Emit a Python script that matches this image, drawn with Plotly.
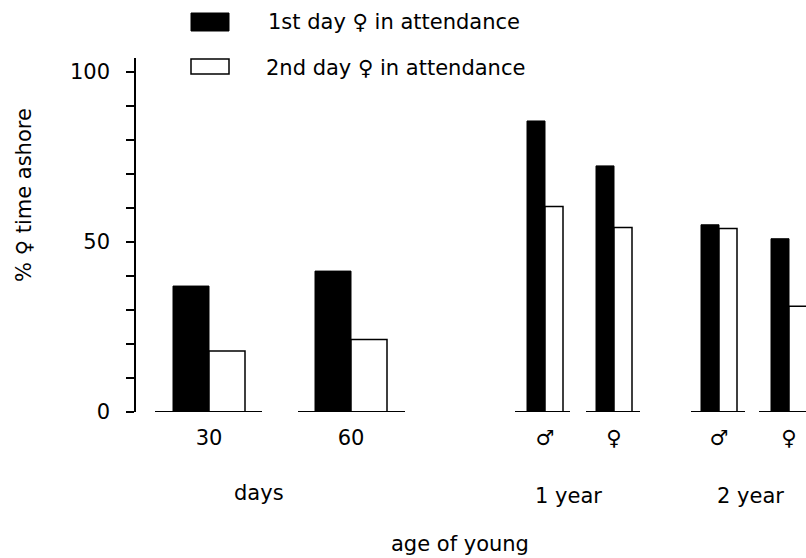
import plotly.graph_objects as go

# ---- data ----
categories = ["30", "60", "♂", "♀", "♂", "♀"]
age_groups = ["days", "1 year", "2 year"]
first_day = [37.0, 41.4, 85.5, 72.3, 55.0, 50.9]
second_day = [17.9, 21.3, 60.4, 54.2, 53.9, 31.1]
series_names = ["1st day ♀ in attendance", "2nd day ♀ in attendance"]
y_ticks = [0, 50, 100]

# ---- layout constants (positions along x axis) ----
W, H = 806, 558
ML, MR, MT, MB = 136, 0, 58, 146
group_pos = [209, 351, 545, 614, 719, 789]
bar_w = [36, 36, 18, 18, 18, 18]
base_l = [54, 53, 30, 28, 28, 30]
base_r = [53, 54, 25, 26, 26, 30]
FONT = "DejaVu Sans"
FS = 21


def px(xp):
    return (xp - ML) / (W - ML - MR)


def py(yp):
    return (H - MB - yp) / (H - MT - MB)


fig = go.Figure()

fig.add_trace(go.Bar(
    x=group_pos, y=first_day, width=bar_w, offset=[-w for w in bar_w],
    name=series_names[0], showlegend=False,
    marker=dict(color="black", line=dict(color="black", width=1)),
))
fig.add_trace(go.Bar(
    x=group_pos, y=second_day, width=bar_w, offset=[0] * len(bar_w),
    name=series_names[1], showlegend=False,
    marker=dict(color="white", line=dict(color="black", width=1.5)),
))

# baseline segments under each group
bx, by = [], []
for g, l, r in zip(group_pos, base_l, base_r):
    bx += [g - l, g + r, None]
    by += [0, 0, None]
fig.add_trace(go.Scatter(x=bx, y=by, mode="lines", showlegend=False,
                         line=dict(color="black", width=2), cliponaxis=False,
                         hoverinfo="skip"))

fig.update_layout(
    width=W, height=H,
    margin=dict(l=ML, r=MR, t=MT, b=MB, pad=0),
    paper_bgcolor="white", plot_bgcolor="white",
    font=dict(family=FONT, size=FS, color="black"),
    barmode="overlay",
    xaxis=dict(range=[ML, W - MR], showgrid=False, zeroline=False, showline=False,
               tickmode="array", tickvals=group_pos, ticktext=categories,
               ticks="", ticklabelstandoff=11, tickfont=dict(size=FS)),
    yaxis=dict(range=[0, 104], showgrid=False, zeroline=False, showline=True,
               linecolor="black", linewidth=1.5, ticks="outside", ticklen=8,
               tickwidth=1.5, tickcolor="black", tickvals=y_ticks,
               ticklabelstandoff=12, tickfont=dict(size=FS),
               minor=dict(dtick=10, ticks="outside", ticklen=8, tickwidth=1.5,
                          tickcolor="black", showgrid=False)),
)

ann = []
for text, xp, yp in zip(age_groups, [259, 568, 750], [493, 496, 496]):
    ann.append(dict(text=text, x=px(xp), y=py(yp), xref="paper", yref="paper",
                    showarrow=False, xanchor="center", yanchor="middle"))
ann.append(dict(text="age of young", x=px(460), y=py(544), xref="paper", yref="paper",
                showarrow=False, xanchor="center", yanchor="middle"))
ann.append(dict(text="% ♀ time ashore", x=px(24), y=py(195), xref="paper", yref="paper",
                showarrow=False, xanchor="center", yanchor="middle", textangle=-90))
# legend
ann.append(dict(text=series_names[0], x=px(266), y=py(22), xref="paper", yref="paper",
                showarrow=False, xanchor="left", yanchor="middle"))
ann.append(dict(text=series_names[1], x=px(264), y=py(68), xref="paper", yref="paper",
                showarrow=False, xanchor="left", yanchor="middle"))
fig.update_layout(annotations=ann)

fig.add_shape(type="rect", xref="paper", yref="paper",
              x0=px(191), x1=px(229), y0=py(31), y1=py(13),
              fillcolor="black", line=dict(color="black", width=1))
fig.add_shape(type="rect", xref="paper", yref="paper",
              x0=px(191), x1=px(229), y0=py(74), y1=py(59),
              fillcolor="white", line=dict(color="black", width=1.5))

fig.write_html("out.html")
